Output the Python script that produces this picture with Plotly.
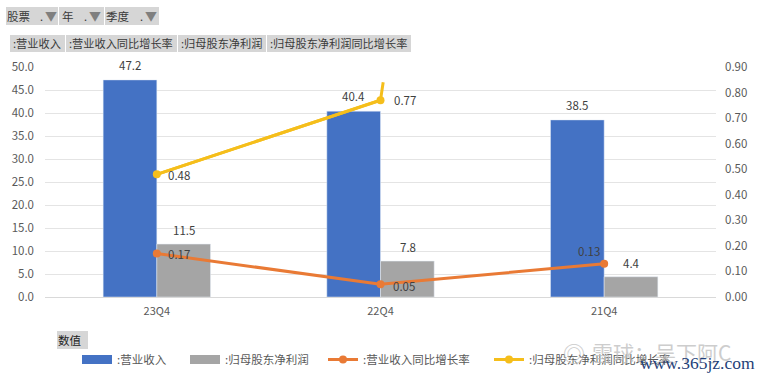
import plotly.graph_objects as go

W, H = 760, 378
L, R, T, B = 45, 44, 67, 81
FONT = "Noto Sans CJK SC"
GREY = "#595959"

categories = ["23Q4", "22Q4", "21Q4"]
positions = [0, 1, 2]
revenue = [47.2, 40.4, 38.5]
net_profit = [11.5, 7.8, 4.4]
revenue_growth = [0.17, 0.05, 0.13]
profit_growth = [0.48, 0.77]
profit_growth_stub_x = [0, 1, 1.012]
profit_growth_stub_y = [0.48, 0.77, 0.84]
left_ticks = [0, 5, 10, 15, 20, 25, 30, 35, 40, 45, 50]
right_ticks = [0, .1, .2, .3, .4, .5, .6, .7, .8, .9]
series_names = [":营业收入", ":归母股东净利润", ":营业收入同比增长率", ":归母股东净利润同比增长率"]

BLUE, SILVER, ORANGE, YELLOW = "#4472C4", "#A5A5A5", "#E97A35", "#F5BE1B"

def px(x):
    return (x - L) / (W - L - R)
def py(y):
    return 1 - (y - T) / (H - T - B)

fig = go.Figure()
fig.add_bar(x=positions, y=revenue, name=series_names[0], marker_color=BLUE, offsetgroup="a", yaxis="y", showlegend=False)
fig.add_bar(x=positions, y=net_profit, name=series_names[1], marker_color=SILVER, offsetgroup="b", yaxis="y", showlegend=False)
# swatches for the two column series, drawn as wide flat keys like the reference legend
fig.add_scatter(x=[None], y=[None], name=series_names[0], mode="lines", line=dict(color=BLUE, width=9), legend="legend")
fig.add_scatter(x=[None], y=[None], name=series_names[1], mode="lines", line=dict(color=SILVER, width=9), legend="legend2")
fig.add_scatter(x=positions, y=revenue_growth, name=series_names[2], yaxis="y2", mode="lines+markers",
                line=dict(color=ORANGE, width=3), marker=dict(size=8, color=ORANGE), legend="legend3")
fig.add_scatter(x=profit_growth_stub_x, y=profit_growth_stub_y, name=series_names[3], yaxis="y2", mode="lines",
                line=dict(color=YELLOW, width=3), showlegend=False)
fig.add_scatter(x=positions[:2], y=profit_growth, name=series_names[3], yaxis="y2", mode="lines+markers",
                line=dict(color=YELLOW, width=3), marker=dict(size=8, color=YELLOW), legend="legend4")

ann = []
def data_label(x, y, text, xs, ys, axis="y"):
    ann.append(dict(x=x, y=y, xref="x", yref=axis, text=text, showarrow=False, xshift=xs, yshift=ys,
                    font=dict(family=FONT, size=11.5, color="#404040")))
for i, v in enumerate(revenue):
    data_label(positions[i], v, f"{v:.1f}", -27, 15)
for i, v in enumerate(net_profit):
    data_label(positions[i], v, f"{v:.1f}", 27, 14)
for i, (xs, ys) in enumerate([(22, 0), (23, -2), (-15, 13)]):
    data_label(positions[i], revenue_growth[i], f"{revenue_growth[i]:.2f}", xs, ys, "y2")
for i, (xs, ys) in enumerate([(22, -1), (24, 0)]):
    data_label(positions[i], profit_growth[i], f"{profit_growth[i]:.2f}", xs, ys, "y2")

shapes = []
def button(x0, y0, x1, y1):
    shapes.append(dict(type="rect", xref="paper", yref="paper", x0=px(x0), x1=px(x1), y0=py(y1), y1=py(y0),
                       fillcolor="#D6D6D6", line=dict(width=0), layer="below"))
def label(x, y, text, size=11, color="#3A3A3A", family=FONT, anchor="left", opacity=1):
    ann.append(dict(x=px(x), y=py(y), xref="paper", yref="paper", text=text, showarrow=False, xanchor=anchor,
                    yanchor="middle", font=dict(family=family, size=size, color=color), opacity=opacity))

for a, b in [(6, 59), (59, 105), (105, 160)]:
    button(a, 7, b - 1, 25)
for a, b in [(10, 66), (66, 178), (178, 267), (267, 412)]:
    button(a, 35, b - 1, 52)
button(57, 331, 88, 349)

label(5, 16, "股票", size=11.5)
label(60, 16, "年", size=11.5)
label(104, 16, "季度", size=11.5)
for x in [38, 82, 138]:
    label(x, 16, ".", color="#333333")
    label(x + 5, 16, "▼", size=12, color="#7F7F7F")
label(11, 43, ":营业收入", size=11.2)
label(67, 43, ":营业收入同比增长率", size=11.2)
label(179, 43, ":归母股东净利润", size=11.2)
label(268, 43, ":归母股东净利润同比增长率", size=11.2)
label(56, 340, "数值", size=11.5, color="#222222")
label(561, 352, "◎", size=22, color="#BDBDBD", opacity=0.8)
label(590, 352, "雪球：吴下阿C", size=21, color="#BDBDBD", opacity=0.75)
label(757, 363, "www.365jz.com", size=17.5, color="#1F3F78", family="Liberation Serif", anchor="right")

def legend_at(x):
    return dict(orientation="h", x=px(x), y=py(345), xanchor="left", yanchor="top", bgcolor="rgba(0,0,0,0)",
                font=dict(size=11.5, color=GREY), itemwidth=30)

fig.update_layout(
    width=W, height=H, autosize=False,
    margin=dict(l=L, r=R, t=T, b=B, autoexpand=False),
    paper_bgcolor="white", plot_bgcolor="white",
    barmode="group", bargap=0.52, bargroupgap=0,
    font=dict(family=FONT, size=11, color=GREY),
    shapes=shapes, annotations=ann,
    xaxis=dict(range=[-0.5, 2.5], tickvals=positions, ticktext=categories, showgrid=False, zeroline=False,
               showline=True, linecolor="#D9D9D9", linewidth=1, ticks="", tickfont=dict(size=11, color=GREY),
               ticklabelstandoff=4, automargin=False),
    yaxis=dict(range=[0, 50], tickvals=left_ticks, ticktext=[f"{v:.1f}" for v in left_ticks], gridcolor="#E4E4E4",
               zeroline=False, ticks="", tickfont=dict(size=11.5, color=GREY), ticklabelstandoff=10, automargin=False),
    yaxis2=dict(range=[0, 0.9], overlaying="y", side="right", tickvals=right_ticks,
                ticktext=[f"{v:.2f}" for v in right_ticks], showgrid=False, zeroline=False, ticks="",
                tickfont=dict(size=11.5, color=GREY), ticklabelstandoff=8, automargin=False),
    legend=legend_at(77), legend2=legend_at(185), legend3=legend_at(323), legend4=legend_at(489),
)
fig.write_html("out.html", config=dict(displayModeBar=False),
               post_script="document.body.style.margin='0';document.documentElement.style.overflow='hidden';")
